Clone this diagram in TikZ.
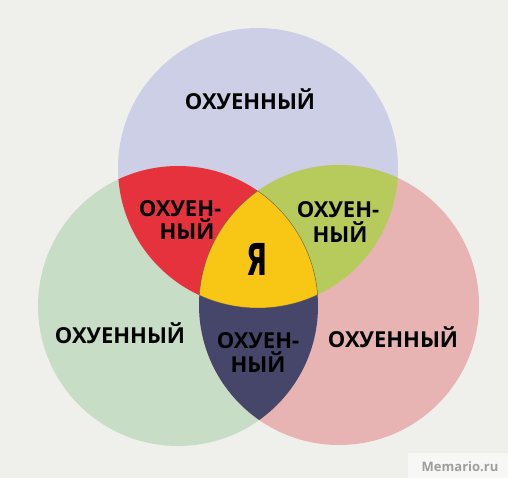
\documentclass[tikz,border=0pt]{standalone}
\usepackage{fontspec}
\setmainfont{Open Sans}
\newfontfamily\heavyfont{DejaVu Sans}
\usepackage{graphicx}
\definecolor{bgC}{HTML}{EFF0EB}
\definecolor{topC}{HTML}{CDCFE6}
\definecolor{leftC}{HTML}{C8DDC6}
\definecolor{rightC}{HTML}{E7B3B3}
\definecolor{redC}{HTML}{E5323D}
\definecolor{limeC}{HTML}{B6CB5C}
\definecolor{navyC}{HTML}{45466A}
\definecolor{yelC}{HTML}{F8C614}
\definecolor{wmC}{HTML}{F7F7F6}
\newcommand{\cTop}{(258,168) circle (140pt)}
\newcommand{\cLeft}{(178,306) circle (140pt)}
\newcommand{\cRight}{(339,305) circle (140pt)}

\begin{document}
\begin{tikzpicture}[x=1pt, y=-1pt,
  lbl/.style={font=\fontsize{22}{24}\selectfont\bfseries, text=black, anchor=base, inner sep=0pt},
  rim/.style={draw=black!70, line width=0.6pt, opacity=0.5}]
\useasboundingbox (0,0) rectangle (508,478);
\fill[bgC] (0,0) rectangle (508,478);
% circles
\fill[topC] \cTop;
\fill[leftC] \cLeft;
\fill[rightC] \cRight;
% pairs
\begin{scope}
  \clip \cTop;
  \fill[redC] \cLeft;
\end{scope}
\begin{scope}
  \clip \cTop;
  \fill[limeC] \cRight;
\end{scope}
\begin{scope}
  \clip \cLeft;
  \fill[navyC] \cRight;
\end{scope}
% centre
\begin{scope}
  \clip \cTop;
  \clip \cLeft;
  \fill[yelC] \cRight;
\end{scope}
% rims of the centre
\begin{scope}
  \clip \cTop;
  \clip \cLeft;
  \draw[rim] \cRight;
\end{scope}
\begin{scope}
  \clip \cTop;
  \clip \cRight;
  \draw[rim] \cLeft;
\end{scope}
\begin{scope}
  \clip \cLeft;
  \clip \cRight;
  \draw[rim] \cTop;
\end{scope}
% labels
\node[lbl] (topL) at (250,110) {ОХУЕННЫЙ};
\node[lbl] (leftL) at (120,343) {ОХУЕННЫЙ};
\node[lbl] (rightL) at (393,347) {ОХУЕННЫЙ};
\node[lbl] (redA) at (180,217) {ОХУЕН-};
\node[lbl] (redB) at (187,240) {НЫЙ};
\node[lbl] (limeA) at (338,218) {ОХУЕН-};
\node[lbl] (limeB) at (340,242) {НЫЙ};
\node[lbl] (navyA) at (258,348) {ОХУЕН-};
\node[lbl] (navyB) at (258,372) {НЫЙ};
\node[lbl, font=\heavyfont\fontsize{44}{44}\selectfont\bfseries] (me) at (257,275) {\scalebox{0.62}[1]{Я}};
% watermark
\fill[wmC] (408,453) rectangle (508,478);
\node[lbl, font=\fontsize{13}{13}\selectfont\bfseries, text=black!38] (wm) at (460,471) {Memario.ru};
\end{tikzpicture}
\end{document}
